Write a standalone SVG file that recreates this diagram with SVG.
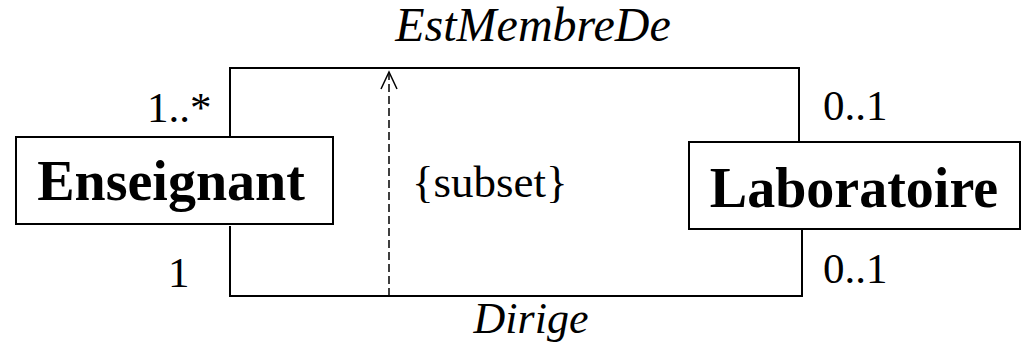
<svg xmlns="http://www.w3.org/2000/svg" width="1022" height="351" viewBox="0 0 1022 351">
<style>
.box{fill:#fff;stroke:#000;stroke-width:2}
.ln{fill:none;stroke:#000;stroke-width:2}
.dash{fill:none;stroke:#000;stroke-width:1.5;stroke-dasharray:8 4}
</style>
<rect width="1022" height="351" fill="#fff"/>
<g font-family="'Liberation Serif', 'Times New Roman', serif" fill="#000">
<g id="connectors">
<polyline class="ln" points="230,137 230,68 799,68 799,142"/>
<polyline class="ln" points="230,226 230,296 802,296 802,229"/>
<line class="dash" x1="389" y1="296" x2="389" y2="74"/>
<polyline class="ln" style="stroke-width:1.5" points="381,89 389,72 397,89"/>
<text x="533" y="41" font-size="48" font-style="italic" text-anchor="middle">EstMembreDe</text>
<text x="531" y="333" font-size="44" font-style="italic" text-anchor="middle">Dirige</text>
<text x="412" y="197" font-size="45">{subset}</text>
<text x="147" y="122" font-size="43">1..*</text>
<text x="168" y="287" font-size="43">1</text>
<text x="823" y="120" font-size="43">0..1</text>
<text x="823" y="283" font-size="43">0..1</text>
</g>
<g id="enseignant">
<rect class="box" x="16" y="137" width="317" height="87"/>
<text x="171" y="200" font-size="56" font-weight="bold" text-anchor="middle">Enseignant</text>
</g>
<g id="laboratoire">
<rect class="box" x="689" y="142" width="331" height="87"/>
<text x="854" y="207" font-size="56" font-weight="bold" text-anchor="middle">Laboratoire</text>
</g>
</g>
</svg>
